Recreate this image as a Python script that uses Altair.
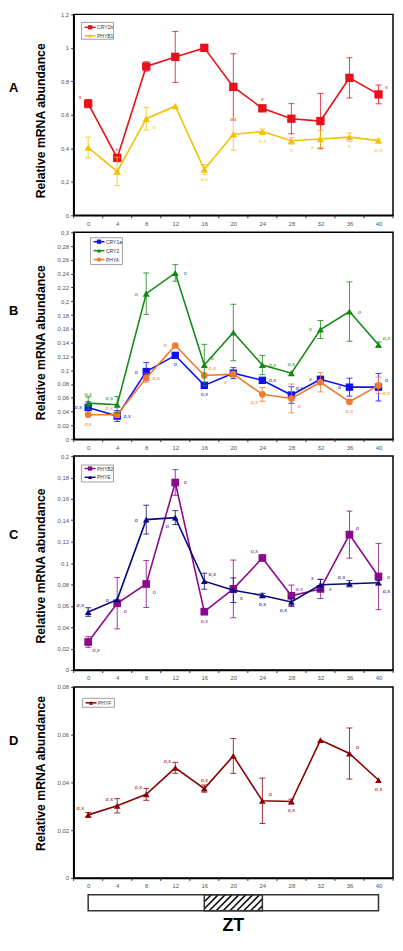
import altair as alt
import pandas as pd

FONT = "Liberation Sans"
ZT = [0, 4, 8, 12, 16, 20, 24, 28, 32, 36, 40]
ZT_BOUNDS = [-2, 2, 6, 10, 14, 18, 22, 26, 30, 34, 38, 42]

# ---------------- data ----------------
# Panel A
CRY1B = [0.667, 0.343, 0.889, 0.946, 1.0, 0.767, 0.639, 0.577, 0.563, 0.821, 0.722]
CRY1B_ERR = [0.025, 0.02, 0.028, 0.152, 0.0, 0.198, 0.01, 0.09, 0.165, 0.12, 0.056]
CRY1B_LAB = ["x", "x", "", "", "", "", "x", "", "", "", "x"]
PHYB1 = [0.405, 0.262, 0.577, 0.652, 0.273, 0.484, 0.5, 0.445, 0.456, 0.467, 0.446]
PHYB1_ERR = [0.062, 0.085, 0.068, 0.0, 0.03, 0.095, 0.015, 0.02, 0.05, 0.025, 0.01]
PHYB1_LAB = ["", "", "o", "", "o,x", "", "o,x", "x", "x", "x", "o,x"]

# Panel B
CRY1A = [0.046, 0.0335, 0.098, 0.1215, 0.078, 0.0957, 0.0853, 0.064, 0.0868, 0.0754, 0.0754]
CRY1A_ERR = [0.008, 0.008, 0.013, 0.0, 0.004, 0.008, 0.004, 0.012, 0.003, 0.013, 0.02]
CRY1A_LAB = ["o,x", "o,x", "o", "o", "o,x", "", "o,x", "o,x", "x", "o", "o"]
CRY2 = [0.0523, 0.05, 0.211, 0.241, 0.1075, 0.1546, 0.1075, 0.0957, 0.159, 0.185, 0.137]
CRY2_ERR = [0.009, 0.012, 0.03, 0.012, 0.03, 0.041, 0.014, 0.0, 0.013, 0.043, 0.004]
CRY2_LAB = ["o,x", "o,x", "o", "o", "o", "", "o,x", "o,x", "x", "o", "o,x"]
PHYA = [0.0354, 0.0354, 0.0886, 0.1358, 0.0924, 0.0943, 0.065, 0.059, 0.0825, 0.0542, 0.078]
PHYA_ERR = [0.0, 0.004, 0.006, 0.0, 0.0, 0.004, 0.01, 0.021, 0.014, 0.0, 0.012]
PHYA_LAB = ["o,x", "o,x", "o,x", "o", "o,x", "x", "o,x", "o", "", "o,x", "o,x"]

# Panel C
PHYB2 = [0.0262, 0.0624, 0.0804, 0.1753, 0.0545, 0.0758, 0.1047, 0.0694, 0.0758, 0.1266, 0.0874]
PHYB2_ERR = [0.005, 0.024, 0.022, 0.012, 0.0, 0.027, 0.0, 0.01, 0.009, 0.022, 0.031]
PHYB2_LAB = ["o,x", "o", "o", "o", "o,x", "", "o,x", "o,x", "x", "o", "o"]
PHYE = [0.0542, 0.0658, 0.1406, 0.1425, 0.083, 0.0746, 0.0697, 0.0636, 0.0797, 0.0807, 0.0816]
PHYE_ERR = [0.004, 0.0, 0.0135, 0.0065, 0.0075, 0.0115, 0.002, 0.0035, 0.005, 0.003, 0.002]
PHYE_LAB = ["o,x", "o", "o", "o", "o,x", "x", "o,x", "o,x", "x", "o,x", "o,x"]

# Panel D
PHYF = [0.0264, 0.0302, 0.035, 0.0461, 0.0374, 0.0511, 0.0323, 0.032, 0.0577, 0.0521, 0.041]
PHYF_ERR = [0.001, 0.003, 0.0025, 0.0023, 0.0015, 0.0073, 0.0095, 0.001, 0.0, 0.0107, 0.0]
PHYF_LAB = ["o,x", "o,x", "o,x", "o,x", "o,x", "", "o", "o,x", "", "o", "o,x"]

# light / dark bar
LIGHT_SPAN = [0, 40]
DARK_SPAN = [16, 24]

# y tick values per panel
YT_A = [0, 0.2, 0.4, 0.6, 0.8, 1.0, 1.2]
YT_B = [round(i * 0.02, 2) for i in range(16)]
YT_C = [round(i * 0.02, 2) for i in range(11)]
YT_D = [0, 0.02, 0.04, 0.06, 0.08]

# ---------------- styles (label placement codes, colours) ----------------
CRY1B_POS = ["al", "a", "", "", "", "", "a", "", "", "", "ar"]
PHYB1_POS = ["", "", "br", "", "b", "", "b", "b", "bl", "b", "b"]
CRY1A_POS = ["l", "r", "l", "b", "b", "", "r", "ar", "l", "l", "ar"]
CRY2_POS = ["a", "al", "l", "r", "ar", "", "r", "a", "l", "r", "ar"]
PHYA_POS = ["b", "al", "r", "l", "ar", "bl", "bl", "br", "", "b", "br"]
PHYB2_POS = ["br", "br", "br", "r", "b", "", "al", "ar", "r", "ar", "r"]
PHYE_POS = ["al", "l", "l", "bl", "ar", "br", "b", "bl", "al", "al", "br"]
PHYF_POS = ["al", "al", "al", "al", "a", "", "ar", "b", "", "ar", "b"]

OFF = {"a": (0, -9), "b": (0, 9), "l": (-10, 0), "r": (10, 0),
       "al": (-8, -7), "ar": (8, -7), "bl": (-8, 8), "br": (8, 8)}

RED = "#e8101a"
YELLOW = "#f2c200"
BLUE = "#1010f0"
GREEN = "#138a13"
ORANGE = "#f07a30"
PURPLE = "#8b0a8b"
NAVY = "#0a0a80"
DARKRED = "#8b0000"

W = 321
XS = alt.Scale(domain=[-2, 42], nice=False, zero=False)
TICK_COL = "#555555"


def make_axes(yticks):
    yaxis = alt.Axis(values=yticks, labelExpr="replace(format(datum.value, '~g'), '.', ',')",
                     labelFont=FONT, labelFontSize=6, labelColor=TICK_COL, labelPadding=2,
                     tickSize=3, tickColor="#333333", domainColor="black", domainWidth=1.5,
                     grid=False, title=None, orient="left")
    xaxis = alt.Axis(values=ZT, ticks=False, tickSize=0, labelFont=FONT, labelFontSize=6,
                     labelColor=TICK_COL, labelPadding=5, domainColor="black", domainWidth=1.5,
                     grid=False, title=None, orient="bottom")
    return xaxis, yaxis


def series_layers(vals, errs, labs, pos, color, shape, size, ys, xaxis, yaxis):
    df = pd.DataFrame({"zt": ZT, "v": vals, "e": errs, "lab": labs, "pos": pos})
    df["lo"] = df["v"] - df["e"]
    df["hi"] = df["v"] + df["e"]
    base = alt.Chart(df)
    x = alt.X("zt:Q", scale=XS, axis=xaxis)
    y = alt.Y("v:Q", scale=ys, axis=yaxis)
    ylo = alt.Y("lo:Q", scale=ys, axis=yaxis)
    yhi = alt.Y("hi:Q", scale=ys, axis=yaxis)
    err = base.transform_filter("datum.e > 0")
    out = [
        err.mark_rule(color=color, strokeWidth=1, opacity=0.8).encode(x=x, y=ylo, y2="hi:Q"),
        err.mark_tick(color=color, orient="horizontal", size=6, thickness=1, opacity=0.8).encode(x=x, y=ylo),
        err.mark_tick(color=color, orient="horizontal", size=6, thickness=1, opacity=0.8).encode(x=x, y=yhi),
        base.mark_line(color=color, strokeWidth=1.6).encode(x=x, y=y),
        base.mark_point(shape=shape, filled=True, size=size, color=color, opacity=1).encode(x=x, y=y),
    ]
    for code, (dx, dy) in OFF.items():
        if code in pos:
            out.append(base.transform_filter(alt.datum.pos == code).mark_text(
                color=color, font=FONT, fontSize=5.5, dx=dx, dy=dy, align="center", baseline="middle"
            ).encode(x=x, y=y, text="lab:N"))
    return out


def legend_layers(names, colors, shapes, bx, by, bh, rows_y):
    one = pd.DataFrame({"k": [0]})
    out = [alt.Chart(one).mark_rect(fill="white", stroke="#888888", strokeWidth=0.8).encode(
        x=alt.value(bx), x2=alt.value(bx + 32), y=alt.value(by), y2=alt.value(by + bh))]
    for name, col, shp, ry in zip(names, colors, shapes, rows_y):
        d = pd.DataFrame({"name": [name]})
        out.append(alt.Chart(d).mark_rule(color=col, strokeWidth=1.5).encode(
            x=alt.value(bx + 3), x2=alt.value(bx + 14), y=alt.value(ry)))
        out.append(alt.Chart(d).mark_point(shape=shp, filled=True, size=18, color=col, opacity=1).encode(
            x=alt.value(bx + 8.5), y=alt.value(ry)))
        out.append(alt.Chart(d).mark_text(font=FONT, fontSize=5, color="#333333", align="left",
                                          baseline="middle").encode(
            x=alt.value(bx + 15.5), y=alt.value(ry), text="name:N"))
    return out


def panel(letter, letter_y, title_dy, H, ymax, yticks, specs, legend):
    ys = alt.Scale(domain=[0, ymax], nice=False, zero=True)
    xaxis, yaxis = make_axes(yticks)
    layers = [
        alt.Chart(pd.DataFrame({"b": ZT_BOUNDS})).mark_rule(color="#333333", strokeWidth=1).encode(
            x=alt.X("b:Q", scale=XS, axis=xaxis), y=alt.value(H), y2=alt.value(H + 3)),
    ]
    for s in specs:
        layers += series_layers(*s, ys, xaxis, yaxis)
    layers += legend_layers(*legend)
    one = pd.DataFrame({"letter": [letter], "title": ["Relative mRNA abundance"]})
    layers.append(alt.Chart(one).mark_text(font=FONT, fontSize=13, fontWeight="bold", color="black",
                                           align="left", baseline="middle").encode(
        x=alt.value(-65), y=alt.value(letter_y), text="letter:N"))
    layers.append(alt.Chart(one).mark_text(font=FONT, fontSize=12.3, fontWeight="bold", color="black",
                                           angle=270, align="center", baseline="middle").encode(
        x=alt.value(-33), y=alt.value(H / 2 + title_dy), text="title:N"))
    return alt.layer(*layers).properties(width=W, height=H)


HA, HB, HC, HD = 202, 208, 215, 192

pA = panel("A", 0.368 * HA, 6, HA, 1.2, YT_A, [
    (CRY1B, CRY1B_ERR, CRY1B_LAB, CRY1B_POS, RED, "square", 70),
    (PHYB1, PHYB1_ERR, PHYB1_LAB, PHYB1_POS, YELLOW, "triangle-up", 55),
], (["CRY1b", "PHYB1"], [RED, YELLOW], ["square", "triangle-up"], 8, 8, 17, [13, 21.5]))

pB = panel("B", 0.38 * HB, 7, HB, 0.3, YT_B, [
    (CRY1A, CRY1A_ERR, CRY1A_LAB, CRY1A_POS, BLUE, "square", 55),
    (PHYA, PHYA_ERR, PHYA_LAB, PHYA_POS, ORANGE, "circle", 45),
    (CRY2, CRY2_ERR, CRY2_LAB, CRY2_POS, GREEN, "triangle-up", 50),
], (["CRY1a", "CRY2", "PHYA"], [BLUE, GREEN, ORANGE], ["square", "triangle-up", "circle"],
    17, 5.5, 27, [9.5, 18.5, 27.5]))

pC = panel("C", 0.37 * HC, 3, HC, 0.2, YT_C, [
    (PHYB2, PHYB2_ERR, PHYB2_LAB, PHYB2_POS, PURPLE, "square", 60),
    (PHYE, PHYE_ERR, PHYE_LAB, PHYE_POS, NAVY, "triangle-up", 45),
], (["PHYB2", "PHYE"], [PURPLE, NAVY], ["square", "triangle-up"], 8, 9, 17, [12.5, 21.3]))

pD = panel("D", 0.284 * HD, -9, HD, 0.08, YT_D, [
    (PHYF, PHYF_ERR, PHYF_LAB, PHYF_POS, DARKRED, "triangle-up", 45),
], (["PHYF"], [DARKRED], ["triangle-up"], 9, 11.5, 9, [16]))


# ---------------- light/dark bar ----------------
def hatch_rows(x0, x1, step=0.95, rise=2.17):
    rows = []
    xb = x0 - rise
    while xb < x1:
        ax, ay, bx2, by2 = xb, 0.0, xb + rise, 1.0
        if ax < x0:
            ay = (x0 - xb) / rise
            ax = x0
        if bx2 > x1:
            by2 = (x1 - xb) / rise
            bx2 = x1
        if bx2 > ax:
            rows.append({"x0": ax, "y0": ay, "x1": bx2, "y1": by2})
        xb += step
    return pd.DataFrame(rows)


BH = 16
ybar = alt.Scale(domain=[0, 1], nice=False, zero=True)
span_df = pd.DataFrame({"a": [LIGHT_SPAN[0]], "b": [LIGHT_SPAN[1]]})
dark_df = pd.DataFrame({"a": [DARK_SPAN[0]], "b": [DARK_SPAN[1]]})
bar = alt.layer(
    alt.Chart(span_df).mark_rect(fill="white", stroke="#333333", strokeWidth=1.5).encode(
        x=alt.X("a:Q", scale=XS, axis=None), x2="b:Q", y=alt.value(0), y2=alt.value(BH)),
    alt.Chart(hatch_rows(DARK_SPAN[0], DARK_SPAN[1])).mark_rule(color="#111111", strokeWidth=1.6).encode(
        x=alt.X("x0:Q", scale=XS, axis=None), x2="x1:Q",
        y=alt.Y("y0:Q", scale=ybar, axis=None), y2="y1:Q"),
    alt.Chart(dark_df).mark_rect(fill="transparent", stroke="#333333", strokeWidth=1.5).encode(
        x=alt.X("a:Q", scale=XS, axis=None), x2="b:Q", y=alt.value(0), y2=alt.value(BH)),
    alt.Chart(pd.DataFrame({"t": ["ZT"]})).mark_text(font=FONT, fontSize=18, fontWeight="bold",
                                                     color="black", align="center", baseline="middle").encode(
        x=alt.value(W / 2), y=alt.value(BH + 15.5), text="t:N"),
).properties(width=W, height=BH, view=alt.ViewBackground(stroke="transparent"))

chart = alt.vconcat(pA, pB, pC, pD, bar, spacing=17, bounds="flush", padding=0).resolve_scale(
    x="independent", y="independent"
).configure_view(stroke="black", strokeWidth=1.5)

chart.save("out.html", embed_options={"renderer": "svg", "actions": False})
